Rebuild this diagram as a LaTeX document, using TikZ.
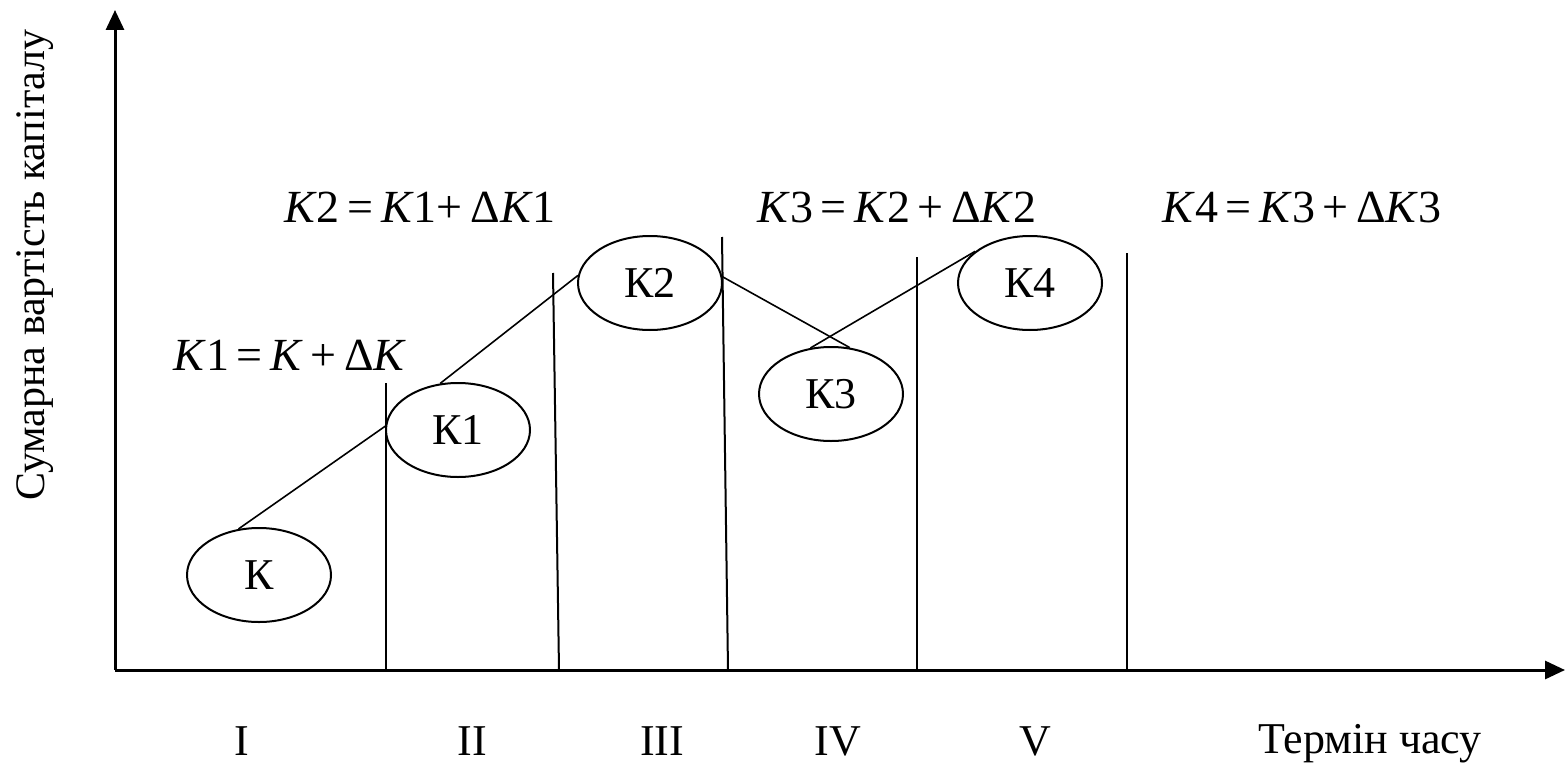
\documentclass[tikz,border=0pt]{standalone}
\usepackage{fontspec}
\setmainfont{Liberation Serif}
\usetikzlibrary{arrows.meta,shapes.geometric}
\begin{document}
\begin{tikzpicture}[x=0.5pt,y=-0.5pt,
  font=\fontsize{22}{26}\selectfont,
  axis/.style={line width=1.5pt,-{Triangle[length=10pt,width=9pt]}},
  divider/.style={line width=1pt},
  kell/.style={ellipse,draw,line width=1pt,minimum width=72pt,minimum height=47pt,inner sep=0pt},
  link/.style={line width=0.8pt},
  formula/.style={font=\fontsize{23}{27}\selectfont,inner sep=0pt},
  period/.style={inner sep=0pt,anchor=base}]
\useasboundingbox (0,0) rectangle (1567,765);
% axes
\coordinate (O) at (115,670);
\coordinate (Ytip) at (115,10);
\coordinate (Xtip) at (1565,670);
\draw[axis] (O) -- (Ytip);
\draw[axis] (O) -- (Xtip);
% dividers
\coordinate (d1t) at (386,383); \coordinate (d1b) at (386,670);
\coordinate (d2t) at (553,273); \coordinate (d2b) at (559,670);
\coordinate (d3t) at (722,237); \coordinate (d3b) at (728,670);
\coordinate (d4t) at (917,257); \coordinate (d4b) at (917,670);
\coordinate (d5t) at (1127,253); \coordinate (d5b) at (1127,670);
\draw[divider] (d1t) -- (d1b);
\draw[divider] (d2t) -- (d2b);
\draw[divider] (d3t) -- (d3b);
\draw[divider] (d4t) -- (d4b);
\draw[divider] (d5t) -- (d5b);
% ellipses
\node[kell] (K)  at (259,575) {К};
\node[kell] (K1) at (458,430) {К1};
\node[kell] (K2) at (650,283) {К2};
\node[kell] (K3) at (831,394) {К3};
\node[kell] (K4) at (1030,283) {К4};
% connectors
\draw[link] (K.114) -- (K1.177);
\draw[link] (K1.111) -- (K2.174);
\draw[link] (K2.5) -- (K3.68);
\draw[link] (K3.114) -- (K4.150);
% formulas
\node[formula] (f1) at (290,355) {\textit{K}1\,=\,\textit{K}\,+\,Δ\textit{K}};
\node[formula] (f2) at (420,207) {\textit{K}2\,=\,\textit{K}1+\,Δ\textit{K}1};
\node[formula] (f3) at (897,207) {\textit{K}3\,=\,\textit{K}2\,+\,Δ\textit{K}2};
\node[formula] (f4) at (1302,207) {\textit{K}4\,=\,\textit{K}3\,+\,Δ\textit{K}3};
% period labels
\node[period] (p1) at (242,755) {I};
\node[period] (p2) at (472,755) {II};
\node[period] (p3) at (662,755) {III};
\node[period] (p4) at (838,755) {IV};
\node[period] (p5) at (1035,755) {V};
\node[period] (xl) at (1370,753) {Термін часу};
\node[rotate=90,font=\fontsize{21}{25}\selectfont] (yl) at (35,265) {Сумарна вартість капіталу};
\end{tikzpicture}
\end{document}
